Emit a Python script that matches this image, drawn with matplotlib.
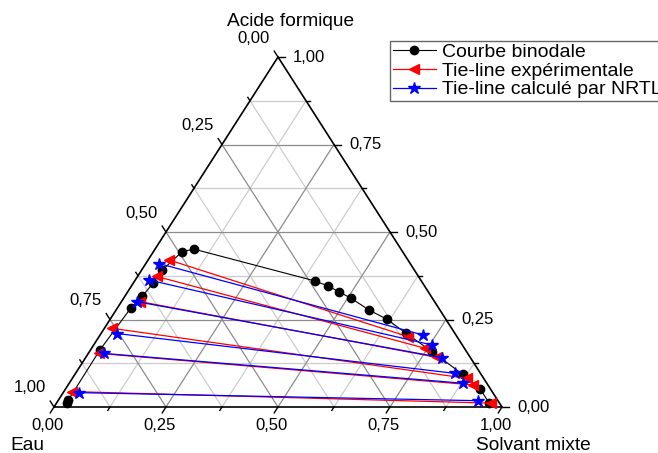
import numpy as np
import matplotlib
matplotlib.use('Agg')
import matplotlib.pyplot as plt
from matplotlib.lines import Line2D

# mass fractions (solvant mixte, acide formique); eau = 1 - both
bin_solvant = [0.023, 0.022, 0.021, 0.030, 0.039, 0.044, 0.046, 0.064, 0.087,
               0.403, 0.438, 0.472, 0.507, 0.565, 0.617, 0.680, 0.765, 0.866, 0.926, 0.966]
bin_acide = [0.011, 0.020, 0.163, 0.282, 0.317, 0.353, 0.391, 0.444, 0.451,
             0.360, 0.346, 0.329, 0.311, 0.277, 0.251, 0.211, 0.158, 0.093, 0.051, 0.011]

# experimental tie-lines: aqueous phase / organic phase
exp_aq_solvant = [0.047, 0.043, 0.042, 0.016, 0.025, 0.018]
exp_aq_acide = [0.420, 0.373, 0.301, 0.225, 0.153, 0.044]
exp_org_solvant = [0.690, 0.744, 0.783, 0.880, 0.904, 0.970]
exp_org_acide = [0.201, 0.168, 0.142, 0.082, 0.063, 0.011]

# NRTL tie-lines
nrtl_aq_solvant = [0.029, 0.030, 0.034, 0.035, 0.036, 0.036]
nrtl_aq_acide = [0.410, 0.363, 0.301, 0.210, 0.153, 0.041]
nrtl_org_solvant = [0.720, 0.756, 0.795, 0.847, 0.878, 0.937]
nrtl_org_acide = [0.206, 0.177, 0.141, 0.096, 0.068, 0.018]

major = [0.0, 0.25, 0.5, 0.75, 1.0]
minor = [0.125, 0.375, 0.625, 0.875]
tick_labels = ['0,00', '0,25', '0,50', '0,75', '1,00']

FIG_W, FIG_H = 658, 453
LEFT, RIGHT, TOP, BOT = 54, 502, 57, 407
PW, PH = float(RIGHT - LEFT), float(BOT - TOP)


def tern(s, a):
  s = np.asarray(s, dtype=float)
  a = np.asarray(a, dtype=float)
  return s + a / 2.0, a


def pxdir(dx, dy, length):
  # direction given in pixels -> offset in data units
  n = np.hypot(dx, dy)
  return dx / n * length / PW, dy / n * length / PH


plt.rcParams['font.family'] = ['Liberation Sans', 'DejaVu Sans']
fig = plt.figure(figsize=(FIG_W / 100.0, FIG_H / 100.0), dpi=100)
ax = fig.add_axes([LEFT / float(FIG_W), (FIG_H - BOT) / float(FIG_H), PW / FIG_W, PH / FIG_H])
ax.set_xlim(0, 1)
ax.set_ylim(0, 1)
ax.set_axis_off()

# grid
for t in minor + major[1:-1]:
  col = '#8c8c8c' if t in major else '#cccccc'
  x, y = tern([t, t], [0, 1 - t])
  ax.plot(x, y, color=col, lw=0.9, zorder=1)
  x, y = tern([1 - t, 0], [0, 1 - t])
  ax.plot(x, y, color=col, lw=0.9, zorder=1)
  x, y = tern([0, 1 - t], [t, t])
  ax.plot(x, y, color=col, lw=0.9, zorder=1)

# frame
ax.plot([0, 1, 0.5, 0], [0, 0, 1, 0], color='black', lw=1.2, zorder=2, clip_on=False)

# ticks + labels
for t in major + minor:
  ln = 7 if t in major else 4
  # bottom: solvant
  dx, dy = pxdir(-PW / 2, -PH, ln)
  ax.plot([t, t + dx], [0, dy], color='black', lw=1, clip_on=False)
  # right: acide
  x0, y0 = 1 - t / 2.0, t
  ax.plot([x0, x0 + ln / PW], [y0, y0], color='black', lw=1, clip_on=False)
  # left: eau
  x0, y0 = (1 - t) / 2.0, 1 - t
  dx, dy = pxdir(-PW / 2, PH, ln)
  ax.plot([x0, x0 + dx], [y0, y0 + dy], color='black', lw=1, clip_on=False)

for t, lab in zip(major, tick_labels):
  ax.annotate(lab, (t, 0), xytext=(-6, -19), textcoords='offset pixels',
              ha='center', va='center', fontsize=12)
  ax.annotate(lab, (1 - t / 2.0, t), xytext=(15, 0), textcoords='offset pixels',
              ha='left', va='center', fontsize=12)
  ax.annotate(lab, ((1 - t) / 2.0, 1 - t), xytext=(-24, 19), textcoords='offset pixels',
              ha='center', va='center', fontsize=12)

fig.text(291 / 658.0, 1 - 26.5 / 453, 'Acide formique', ha='center', va='baseline', fontsize=13.8)
fig.text(27 / 658.0, 1 - 450.5 / 453.0, 'Eau', ha='center', va='baseline', fontsize=13.8)
fig.text(533 / 658.0, 1 - 449.5 / 453.0, 'Solvant mixte', ha='center', va='baseline', fontsize=13.8)

# binodal curve
x, y = tern(bin_solvant, bin_acide)
ax.plot(x, y, '-o', color='black', lw=0.8, ms=6, zorder=3, clip_on=False)

# tie-lines
for i in range(len(exp_aq_acide)):
  x, y = tern([exp_aq_solvant[i], exp_org_solvant[i]], [exp_aq_acide[i], exp_org_acide[i]])
  ax.plot(x, y, '-<', color='red', lw=0.9, ms=7, zorder=4, clip_on=False)
for i in range(len(nrtl_aq_acide)):
  x, y = tern([nrtl_aq_solvant[i], nrtl_org_solvant[i]], [nrtl_aq_acide[i], nrtl_org_acide[i]])
  ax.plot(x, y, '-*', color='blue', lw=0.9, ms=9, zorder=5, clip_on=False)

handles = [Line2D([], [], color='black', marker='o', ms=6, lw=0.8),
           Line2D([], [], color='red', marker='<', ms=7, lw=0.9),
           Line2D([], [], color='blue', marker='*', ms=9, lw=0.9)]
names = ['Courbe binodale', u'Tie-line exp\u00e9rimentale', u'Tie-line calcul\u00e9 par NRTL']
leg = fig.legend(handles, names, loc='upper left', bbox_to_anchor=(390 / 658.0, 1 - 40.7 / 453),
                 bbox_transform=fig.transFigure, fontsize=14, frameon=True, fancybox=False,
                 borderpad=0.15, labelspacing=0.05, handlelength=2.2, handletextpad=0.3,
                 borderaxespad=0, numpoints=1)
leg.get_frame().set_edgecolor('#404040')
leg.get_frame().set_linewidth(1)

fig.savefig('out.png', dpi=100)
